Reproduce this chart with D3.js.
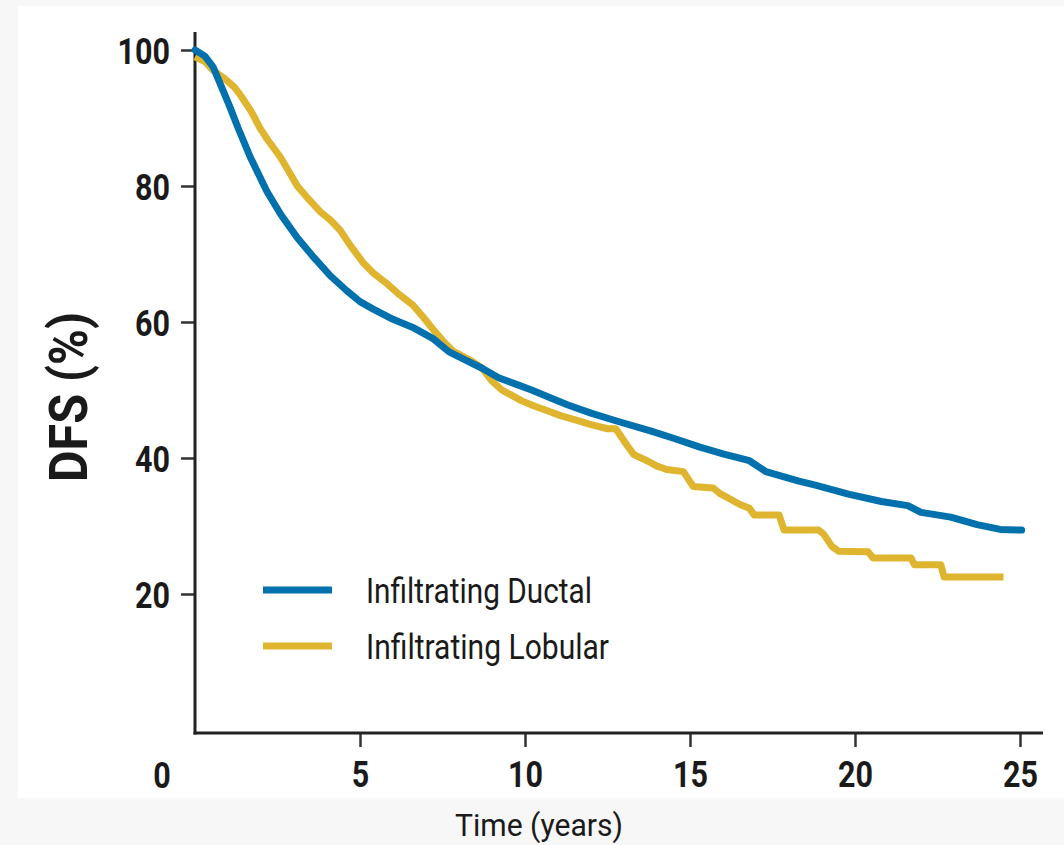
<!DOCTYPE html>
<html>
<head>
<meta charset="utf-8">
<script src="https://cdn.jsdelivr.net/npm/d3@7"></script>
<style>
  html, body { margin: 0; padding: 0; background: #f7f7f7; }
  svg { display: block; }
</style>
</head>
<body>
<svg id="chart" width="1064" height="845"></svg>
<script>
// Kaplan-Meier readings, time in years / DFS in %
var ductalTime = [0, 0.3, 0.55, 0.8, 1.06, 1.3, 1.67, 2.18, 2.6, 3.1, 3.6, 4.1, 4.6, 5.0, 5.4, 6.0, 6.6, 7.2, 7.7, 8.2, 8.7, 9.2, 9.7, 10.2, 10.8, 11.3, 12.0, 12.8, 13.8, 14.5, 15.3, 16.0, 16.8, 17.3, 18.3, 18.8, 19.8, 20.8, 21.6, 22.0, 22.9, 23.7, 24.4, 25.05];
var ductalDFS = [100, 99.1, 97.5, 94.6, 91.6, 88.6, 84.3, 79.2, 75.8, 72.4, 69.5, 66.8, 64.6, 63.0, 61.9, 60.4, 59.2, 57.6, 55.6, 54.4, 53.2, 51.8, 50.9, 50.0, 48.8, 47.8, 46.6, 45.4, 44.0, 42.9, 41.6, 40.6, 39.6, 38.0, 36.6, 36.0, 34.7, 33.6, 33.0, 32.0, 31.3, 30.2, 29.5, 29.4];

var lobularTime = [0, 0.3, 0.55, 0.9, 1.2, 1.4, 1.7, 1.97, 2.2, 2.58, 2.8, 3.1, 3.4, 3.8, 4.1, 4.4, 4.7, 5.1, 5.4, 5.8, 6.2, 6.6, 6.9, 7.2, 7.5, 7.8, 8.1, 8.4, 8.7, 9.0, 9.3, 9.6, 9.9, 10.3, 10.7, 11.1, 11.6, 12.0, 12.5, 12.75, 13.1, 13.3, 13.7, 14.0, 14.3, 14.8, 15.1, 15.7, 15.9, 16.2, 16.5, 16.8, 16.95, 17.7, 17.85, 18.9, 19.05, 19.3, 19.5, 20.4, 20.55, 21.7, 21.8, 22.6, 22.7, 24.5];
var lobularDFS = [99, 98.3, 97, 95.8, 94.5, 93.2, 91, 88.5, 86.8, 84.3, 82.5, 80, 78.3, 76.2, 75, 73.5, 71.3, 68.7, 67.2, 65.7, 64, 62.5, 60.8, 59, 57.3, 55.8, 55, 54.2, 53.2, 51.3, 50, 49.2, 48.4, 47.6, 46.9, 46.2, 45.5, 44.9, 44.3, 44.3, 41.8, 40.5, 39.6, 38.8, 38.3, 38.0, 35.8, 35.6, 34.8, 34.0, 33.2, 32.6, 31.6, 31.6, 29.4, 29.4, 28.8, 27.0, 26.3, 26.2, 25.3, 25.3, 24.3, 24.3, 22.5, 22.5];

var seriesNames = ["Infiltrating Ductal", "Infiltrating Lobular"];
var seriesColors = ["#0071ad", "#dfb52f"];
var xTickValues = [5, 10, 15, 20, 25];
var yTickValues = [20, 40, 60, 80, 100];

var svg = d3.select("#chart");
var fontFam = 'Roboto, "Liberation Sans", sans-serif';
var digitW = 17.5; // condensed digit width in the original

// white panel
svg.append("rect").attr("x", 18).attr("y", 6).attr("width", 1046).attr("height", 792).attr("fill", "#ffffff");

var xScale = d3.scaleLinear().domain([0, 25]).range([195, 1020]);
var yScale = d3.scaleLinear().domain([0, 100]).range([730, 50]);

// axes
var yAxis = svg.append("g")
    .attr("transform", "translate(195,0)")
    .call(d3.axisLeft(yScale).tickValues(yTickValues).tickSize(14).tickPadding(11));
var xAxis = svg.append("g")
    .attr("transform", "translate(0,733)")
    .call(d3.axisBottom(xScale).tickValues(xTickValues).tickSize(14).tickPadding(13));

[xAxis, yAxis].forEach(function(ax) {
    ax.select(".domain").remove();
    ax.selectAll(".tick line").attr("stroke", "#333").attr("stroke-width", 2.5);
    ax.selectAll(".tick text")
        .attr("fill", "#1a1a1a")
        .style("font-size", "37px")
        .style("font-weight", "bold")
        .style("font-family", fontFam)
        .attr("textLength", function(d) { return String(d).length * digitW; })
        .attr("lengthAdjust", "spacingAndGlyphs");
});
yAxis.selectAll(".tick text").attr("dy", "0.36em");
xAxis.selectAll(".tick text").attr("dy", "0.72em");

// axis lines
svg.append("line").attr("x1", 195).attr("x2", 195).attr("y1", 32).attr("y2", 734.5)
    .attr("stroke", "#222").attr("stroke-width", 3);
svg.append("line").attr("x1", 193.5).attr("x2", 1043).attr("y1", 733).attr("y2", 733)
    .attr("stroke", "#222").attr("stroke-width", 3);

// lone zero at the origin corner
svg.append("text")
    .attr("x", xScale(0) - 33).attr("y", 788)
    .attr("text-anchor", "middle")
    .attr("fill", "#1a1a1a")
    .style("font-family", fontFam).style("font-size", "37px").style("font-weight", "bold")
    .attr("textLength", digitW).attr("lengthAdjust", "spacingAndGlyphs")
    .text("0");

// curves
var line = d3.line()
    .x(function(d) { return xScale(d[0]); })
    .y(function(d) { return yScale(d[1]); });

var ductal = d3.zip(ductalTime, ductalDFS);
var lobular = d3.zip(lobularTime, lobularDFS);

svg.append("path").datum(lobular)
    .attr("d", line)
    .attr("fill", "none").attr("stroke", seriesColors[1]).attr("stroke-width", 7)
    .attr("stroke-linejoin", "round");

svg.append("path").datum(ductal)
    .attr("d", line)
    .attr("fill", "none").attr("stroke", seriesColors[0]).attr("stroke-width", 7)
    .attr("stroke-linejoin", "round").attr("stroke-linecap", "round");

// legend
var legendWidths = [226, 243];
var legend = svg.append("g").attr("transform", "translate(263,590)");
seriesNames.forEach(function(name, i) {
    var g = legend.append("g").attr("transform", "translate(0," + (i * 56) + ")");
    g.append("line").attr("x1", 0).attr("x2", 69).attr("y1", 0).attr("y2", 0)
        .attr("stroke", seriesColors[i]).attr("stroke-width", 7);
    g.append("text").attr("x", 103).attr("y", 0).attr("dy", "0.36em")
        .attr("fill", "#1a1a1a")
        .style("font-family", fontFam).style("font-size", "35px")
        .attr("textLength", legendWidths[i]).attr("lengthAdjust", "spacingAndGlyphs")
        .text(name);
});

// axis titles
svg.append("text")
    .attr("transform", "translate(87,397) rotate(-90)")
    .attr("text-anchor", "middle")
    .attr("fill", "#1a1a1a")
    .style("font-family", fontFam).style("font-size", "53px").style("font-weight", "bold")
    .attr("textLength", 170).attr("lengthAdjust", "spacingAndGlyphs")
    .text("DFS (%)");

svg.append("text")
    .attr("x", 539).attr("y", 836)
    .attr("text-anchor", "middle")
    .attr("fill", "#1a1a1a")
    .style("font-family", fontFam).style("font-size", "32px")
    .attr("textLength", 168).attr("lengthAdjust", "spacingAndGlyphs")
    .text("Time (years)");
</script>
</body>
</html>
